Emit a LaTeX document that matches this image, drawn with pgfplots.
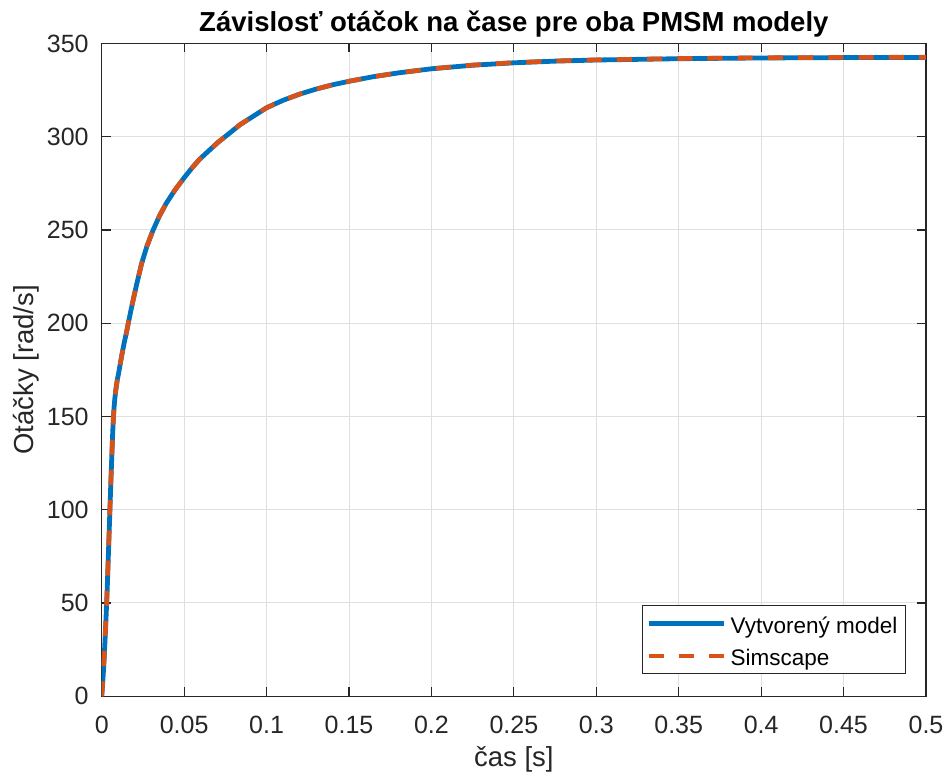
\documentclass[border=0pt]{standalone}
\usepackage{fontspec}
\setmainfont{Liberation Sans}
\usepackage{pgfplots}
\pgfplotsset{compat=1.18}
\definecolor{mblue}{rgb}{0,0.447,0.741}
\definecolor{morange}{rgb}{0.850,0.325,0.098}
\definecolor{axgray}{rgb}{0.15,0.15,0.15}
\definecolor{gridgray}{rgb}{0.875,0.875,0.875}
\pgfplotstableread{
t w
0 0
0.0005 6
0.001 13
0.0015 21
0.002 30
0.0025 40
0.003 50
0.0035 62
0.004 75
0.0045 88
0.005 101
0.0055 114
0.006 126
0.0065 138
0.007 148
0.0075 155
0.008 160
0.0085 164
0.009 167
0.0095 170
0.010 172
0.011 177
0.012 182
0.0135 189
0.015 195
0.016 199.5
0.0175 206
0.0192 213
0.0215 222
0.0242 232
0.0275 241.5
0.0312 250
0.035 257.5
0.0393 264.5
0.0445 271.5
0.05 278
0.055 283.5
0.0595 288
0.065 292.5
0.0706 297
0.077 301.5
0.084 306.5
0.092 311
0.1 315.5
0.11 319.5
0.12 322.8
0.13 325.5
0.14 327.8
0.15 329.7
0.165 332.2
0.18 334.2
0.2 336.4
0.225 338.3
0.25 339.6
0.275 340.5
0.3 341.1
0.35 341.8
0.4 342.2
0.45 342.4
0.5 342.5
}\modeltab
\pgfplotstableread{
t w
0 0
0.0005 6
0.001 13
0.0015 21
0.002 30
0.0025 40
0.003 50
0.0035 62
0.004 75
0.0045 88
0.005 101
0.0055 114
0.006 126
0.0065 138
0.007 148
0.0075 155
0.008 160
0.0085 164
0.009 167
0.0095 170
0.010 172
0.011 177
0.012 182
0.0135 189
0.015 195
0.016 199.5
0.0175 206
0.0192 213
0.0215 222
0.0242 232
0.0275 241.5
0.0312 250
0.035 257.5
0.0393 264.5
0.0445 271.5
0.05 278
0.055 283.5
0.0595 288
0.065 292.5
0.0706 297
0.077 301.5
0.084 306.5
0.092 311
0.1 315.5
0.11 319.5
0.12 322.8
0.13 325.5
0.14 327.8
0.15 329.7
0.165 332.2
0.18 334.2
0.2 336.4
0.225 338.4
0.25 339.7
0.275 340.6
0.3 341.2
0.35 341.9
0.4 342.3
0.45 342.5
0.5 342.6
}\simtab
\begin{document}
\begin{tikzpicture}
\useasboundingbox (-50.85pt,-40pt) rectangle (422.5pt,348pt);
\begin{axis}[
  scale only axis, width=412pt, height=326.3pt,
  xmin=0, xmax=0.5, ymin=0, ymax=350,
  xtick={0,0.05,0.1,0.15,0.2,0.25,0.3,0.35,0.4,0.45,0.5},
  xticklabels={0,0.05,0.1,0.15,0.2,0.25,0.3,0.35,0.4,0.45,0.5},
  ytick={0,50,100,150,200,250,300,350},
  /pgf/number format/assume math mode=true,
  tick align=inside, major tick length=4.5pt,
  tick style={axgray, line width=0.6pt},
  axis line style={axgray, line width=0.6pt},
  grid=major, major grid style={gridgray, line width=0.5pt},
  ticklabel style={font=\fontsize{12.5}{14}\selectfont, text=axgray},
  xticklabel style={anchor=north, inner sep=0pt, yshift=-9.5pt},
  yticklabel style={anchor=east, inner sep=0pt, xshift=-6.35pt},
  title={Závislosť otáčok na čase pre oba PMSM modely},
  title style={font=\fontsize{13.75}{16}\selectfont\bfseries, anchor=base, at={(axis description cs:0.5,1.01778)}, yshift=-6pt},
  xlabel={čas [s]},
  xlabel style={font=\fontsize{13.75}{16}\selectfont, text=axgray, anchor=base, at={(axis description cs:0.5,-0.10727)}},
  ylabel={Otáčky [rad/s]},
  ylabel style={font=\fontsize{13.75}{16}\selectfont, text=axgray, anchor=base, at={(axis description cs:-0.0825,0.5)}},
  legend cell align=left,
  legend image code/.code={\draw[#1] (0pt,0pt) -- (37.8pt,0pt);},
  legend style={at={(axis description cs:1,0)}, anchor=south east, xshift=-10pt, yshift=11pt,
    draw=axgray, line width=0.5pt, fill=white,
    font=\fontsize{11.25}{13}\selectfont,
    inner xsep=2pt, inner ysep=0.8pt, row sep=0pt,
    nodes={inner xsep=2pt, inner ysep=0pt, text height=13.1pt, text depth=3.1pt}},
]
\addplot[mblue, line width=2.4pt, line join=round] table[x=t, y=w] {\modeltab};
\addlegendentry{Vytvorený model}
\addplot[morange, line width=2.3pt, line join=round, dash pattern=on 7.5pt off 7.6pt] table[x=t, y=w] {\simtab};
\addlegendentry{Simscape}
\end{axis}
\end{tikzpicture}
\end{document}
